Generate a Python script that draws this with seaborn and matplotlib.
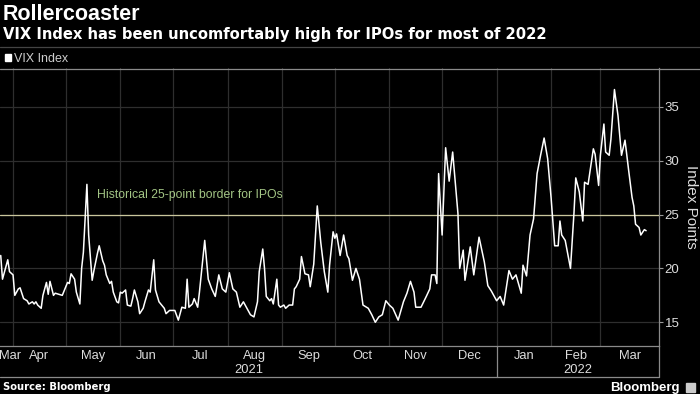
import pandas as pd
import matplotlib.pyplot as plt
from matplotlib.lines import Line2D
from matplotlib.patches import Rectangle
import seaborn as sns

# VIX 종가
dates = [
    '2021-03-25', '2021-03-26', '2021-03-29', '2021-03-30', '2021-04-01', '2021-04-02', '2021-04-04', '2021-04-05',
    '2021-04-07', '2021-04-09', '2021-04-10', '2021-04-12', '2021-04-13', '2021-04-14', '2021-04-15', '2021-04-17',
    '2021-04-18', '2021-04-20', '2021-04-21', '2021-04-22', '2021-04-24', '2021-04-25', '2021-04-27', '2021-04-29',
    '2021-05-01', '2021-05-02', '2021-05-03', '2021-05-04', '2021-05-06', '2021-05-07', '2021-05-09', '2021-05-10',
    '2021-05-11', '2021-05-13', '2021-05-14', '2021-05-16', '2021-05-17', '2021-05-19', '2021-05-20', '2021-05-22',
    '2021-05-23', '2021-05-24', '2021-05-26', '2021-05-27', '2021-05-28', '2021-05-30', '2021-05-31',
    '2021-06-01', '2021-06-02', '2021-06-04', '2021-06-05', '2021-06-07', '2021-06-08', '2021-06-09', '2021-06-11',
    '2021-06-12', '2021-06-14', '2021-06-15', '2021-06-17', '2021-06-18', '2021-06-20', '2021-06-21', '2021-06-23',
    '2021-06-26', '2021-06-27', '2021-06-29',
    '2021-07-02', '2021-07-04', '2021-07-06', '2021-07-08', '2021-07-09', '2021-07-10', '2021-07-12', '2021-07-13',
    '2021-07-15', '2021-07-16', '2021-07-19', '2021-07-21', '2021-07-23', '2021-07-25', '2021-07-27', '2021-07-29',
    '2021-07-31',
    '2021-08-02', '2021-08-04', '2021-08-06', '2021-08-08', '2021-08-10', '2021-08-12', '2021-08-14', '2021-08-16',
    '2021-08-18', '2021-08-19', '2021-08-21', '2021-08-22', '2021-08-23', '2021-08-25', '2021-08-26', '2021-08-27',
    '2021-08-29', '2021-08-30', '2021-08-31',
    '2021-09-02', '2021-09-03', '2021-09-05', '2021-09-07', '2021-09-08', '2021-09-09', '2021-09-11', '2021-09-12',
    '2021-09-14', '2021-09-16', '2021-09-17', '2021-09-19', '2021-09-21', '2021-09-23', '2021-09-25', '2021-09-27',
    '2021-09-28', '2021-09-30',
    '2021-10-01', '2021-10-02', '2021-10-04', '2021-10-06', '2021-10-08', '2021-10-09', '2021-10-11', '2021-10-13',
    '2021-10-15', '2021-10-17', '2021-10-20', '2021-10-22', '2021-10-24', '2021-10-26', '2021-10-28', '2021-10-30',
    '2021-11-01', '2021-11-03', '2021-11-06', '2021-11-09', '2021-11-11', '2021-11-13', '2021-11-15', '2021-11-16',
    '2021-11-19', '2021-11-22', '2021-11-24', '2021-11-25', '2021-11-27', '2021-11-28', '2021-11-29',
    '2021-12-01', '2021-12-03', '2021-12-05', '2021-12-07', '2021-12-08', '2021-12-10', '2021-12-11', '2021-12-13',
    '2021-12-14', '2021-12-17', '2021-12-19', '2021-12-22', '2021-12-25', '2021-12-27', '2021-12-29', '2021-12-30',
    '2022-01-01', '2022-01-03', '2022-01-05', '2022-01-08', '2022-01-10', '2022-01-12', '2022-01-15', '2022-01-16',
    '2022-01-18', '2022-01-20', '2022-01-22', '2022-01-24', '2022-01-26', '2022-01-28', '2022-01-30',
    '2022-02-01', '2022-02-03', '2022-02-05', '2022-02-06', '2022-02-07', '2022-02-09', '2022-02-12', '2022-02-14',
    '2022-02-15', '2022-02-17', '2022-02-19', '2022-02-20', '2022-02-22', '2022-02-23', '2022-02-25', '2022-02-26',
    '2022-02-28',
    '2022-03-01', '2022-03-03', '2022-03-04', '2022-03-06', '2022-03-07', '2022-03-09', '2022-03-11', '2022-03-13',
    '2022-03-15', '2022-03-17', '2022-03-19', '2022-03-20', '2022-03-21', '2022-03-23', '2022-03-24', '2022-03-26',
    '2022-03-27',
]
vix = [
    21.2, 19.0, 20.8, 19.7, 19.4, 17.5, 18.1, 18.2, 17.2, 17.0, 16.7, 16.9, 16.7, 16.9, 16.6, 16.3,
    17.5, 18.7, 17.6, 18.8, 17.5, 17.7, 17.6, 17.5,
    18.3, 18.7, 18.6, 19.5, 19.0, 17.8, 16.7, 20.0, 21.5, 27.8, 23.1, 18.9, 19.8, 21.4, 22.1, 20.7,
    20.3, 19.4, 18.6, 18.8, 17.8, 16.9, 16.8,
    17.8, 17.7, 18.0, 16.6, 16.5, 17.2, 18.0, 16.9, 15.8, 16.3, 16.9, 18.0, 17.8, 20.8, 18.0, 16.9,
    16.3, 15.8, 16.1,
    16.1, 15.2, 16.4, 16.3, 19.0, 16.4, 16.7, 17.2, 16.4, 17.8, 22.6, 19.0, 18.1, 17.4, 19.4, 18.1, 17.8,
    19.6, 18.1, 17.8, 16.4, 16.9, 16.3, 15.7, 15.5, 16.9, 19.7, 21.8, 20.0, 17.4, 17.0, 17.2, 16.7,
    19.0, 16.6, 16.4,
    16.6, 16.3, 16.6, 16.6, 18.1, 18.3, 19.0, 21.1, 19.5, 19.4, 18.3, 20.4, 25.8, 22.4, 19.7, 17.8,
    20.3, 23.4,
    22.8, 23.2, 21.2, 23.1, 21.2, 20.9, 18.9, 20.0, 19.0, 16.6, 16.3, 15.7, 15.0, 15.5, 15.7, 17.0,
    16.6, 16.3, 15.2, 16.9, 17.7, 18.8, 17.8, 16.4, 16.4, 17.4, 18.1, 19.4, 19.4, 18.6, 28.8,
    23.1, 31.2, 28.1, 30.8, 28.9, 25.1, 20.0, 21.7, 18.9, 22.0, 19.4, 22.9, 20.6, 18.4, 17.9, 17.6,
    17.0, 17.4, 16.6, 19.8, 19.0, 19.4, 17.7, 20.3, 19.3, 23.1, 24.6, 28.8, 30.5, 32.1, 30.2,
    26.5, 22.1, 22.1, 24.4, 23.1, 22.6, 20.0, 25.2, 28.4, 27.1, 24.4, 28.0, 27.8, 28.9, 31.1, 30.6,
    27.7,
    30.5, 33.4, 30.8, 30.5, 32.0, 36.6, 34.2, 30.5, 31.9, 29.2, 26.6, 25.8, 24.1, 23.8, 23.1, 23.6,
    23.5,
]

month_labels = ['Mar', 'Apr', 'May', 'Jun', 'Jul', 'Aug', 'Sep', 'Oct', 'Nov', 'Dec', 'Jan', 'Feb', 'Mar']
year_labels = ['2021', '2022']
y_ticks = [15, 20, 25, 30, 35]
border = 25

W, H = 700, 394

sns.set_style('dark', {'axes.facecolor': 'black', 'figure.facecolor': 'black'})
plt.rcParams['font.family'] = ['Liberation Sans Narrow', 'Liberation Sans', 'DejaVu Sans']

df = pd.DataFrame({'date': pd.to_datetime(dates), 'vix': vix})

fig = plt.figure(figsize=(W / 100, H / 100), dpi=100, facecolor='black')
ax = fig.add_axes([0, (H - 346) / H, 659 / W, 278 / H])
ax.set_facecolor('black')

sns.lineplot(data=df, x='date', y='vix', color='white', linewidth=1.1, ax=ax, legend=False, zorder=5)

x0 = pd.Timestamp('2021-03-24 14:00')
x1 = pd.Timestamp('2022-04-03 08:00')
ax.set_xlim(x0, x1)
ax.set_ylim(12.8, 38.6)

# 월 경계 그리드
month_starts = pd.date_range('2021-04-01', '2022-03-01', freq='MS')
ax.set_xticks(month_starts)
ax.set_xticklabels([])
ax.tick_params(axis='x', direction='in', length=3, color='#777777')
ax.grid(axis='x', color='#2e2e2e', linewidth=0.9)

ax.yaxis.tick_right()
ax.set_yticks(y_ticks)
ax.tick_params(axis='y', direction='out', length=3, color='#999999', labelcolor='#dddddd',
               labelsize=9.5, pad=1, right=True, left=False)
ax.grid(axis='y', color='#2e2e2e', linewidth=0.9)
ax.set_xlabel('')
ax.set_ylabel('')

for side in ['left', 'top']:
    ax.spines[side].set_visible(False)
for side in ['right', 'bottom']:
    ax.spines[side].set_visible(True)
    ax.spines[side].set_color('#8a8a8a')
    ax.spines[side].set_linewidth(0.9)

# 25 포인트 기준선
ax.axhline(border, color='#c9c59c', linewidth=0.9, zorder=3)
ax.annotate('Historical 25-point border for IPOs', (pd.Timestamp('2021-05-19'), border),
            xytext=(0, 12), textcoords='offset points', color='#a3c585', fontsize=8.8,
            family=['Liberation Sans', 'DejaVu Sans'], va='baseline', ha='left')

# 월 / 연도 라벨
bounds = [x0] + list(month_starts) + [x1]
xtr = ax.get_xaxis_transform()
for i, lab in enumerate(month_labels):
    mid = bounds[i] + (bounds[i + 1] - bounds[i]) / 2
    mid = max(mid, x0 + pd.Timedelta(days=6))
    ax.text(mid, (346 - 356) / 278, lab, transform=xtr, ha='center', va='center',
            color='#dddddd', fontsize=9.3, clip_on=False)

jan1 = pd.Timestamp('2022-01-01')
year_bounds = [(x0, jan1), (jan1, x1)]
for (a, b), lab in zip(year_bounds, year_labels):
    ax.text(a + (b - a) / 2, (346 - 370) / 278, lab, transform=xtr, ha='center', va='center',
            color='#dddddd', fontsize=9.3, clip_on=False)
ax.plot([jan1, jan1], [0, -(377 - 346) / 278], transform=xtr, color='#8a8a8a',
        linewidth=0.9, clip_on=False)


def hline(y, xa, xb, color, lw=0.9):
    fig.add_artist(Line2D([xa / W, xb / W], [1 - y / H, 1 - y / H], color=color, linewidth=lw,
                          transform=fig.transFigure))


def vline(x, ya, yb, color, lw=0.9):
    fig.add_artist(Line2D([x / W, x / W], [1 - ya / H, 1 - yb / H], color=color, linewidth=lw,
                          transform=fig.transFigure))


hline(46.7, 0, W, '#444444')
hline(68.5, 0, W, '#8a8a8a')
hline(376.7, 0, 659, '#8a8a8a')
vline(659, 346, 376.7, '#8a8a8a')

# 제목
fig.text(3 / W, 1 - 20 / H, 'Rollercoaster', color='white', fontsize=15.5, fontweight='bold',
         family=['Liberation Sans', 'DejaVu Sans'], va='baseline')
fig.text(3 / W, 1 - 38.5 / H, 'VIX Index has been uncomfortably high for IPOs for most of 2022',
         color='white', fontsize=10.6, fontweight='bold', family=['DejaVu Sans'], va='baseline')

# 범례
fig.add_artist(Rectangle((5 / W, 1 - 61 / H), 6 / W, 7 / H, color='white', transform=fig.transFigure))
fig.text(14 / W, 1 - 62 / H, 'VIX Index', color='#cccccc', fontsize=9, va='baseline')

fig.text(691 / W, 1 - 207 / H, 'Index Points', color='#dddddd', fontsize=11, rotation=-90,
         family=['Liberation Sans', 'DejaVu Sans'], ha='center', va='center')

fig.text(3 / W, 1 - 390 / H, 'Source: Bloomberg', color='white', fontsize=7.2, fontweight='bold',
         family=['DejaVu Sans'], va='baseline')
fig.text(680 / W, 1 - 391 / H, 'Bloomberg', color='white', fontsize=9.5, fontweight='bold',
         family=['Liberation Sans', 'DejaVu Sans'], ha='right', va='baseline')
fig.add_artist(Rectangle((686 / W, 1 - 392 / H), 9 / W, 9 / H, color='#cccccc', transform=fig.transFigure))

fig.savefig('out.png', dpi=100, facecolor='black')
